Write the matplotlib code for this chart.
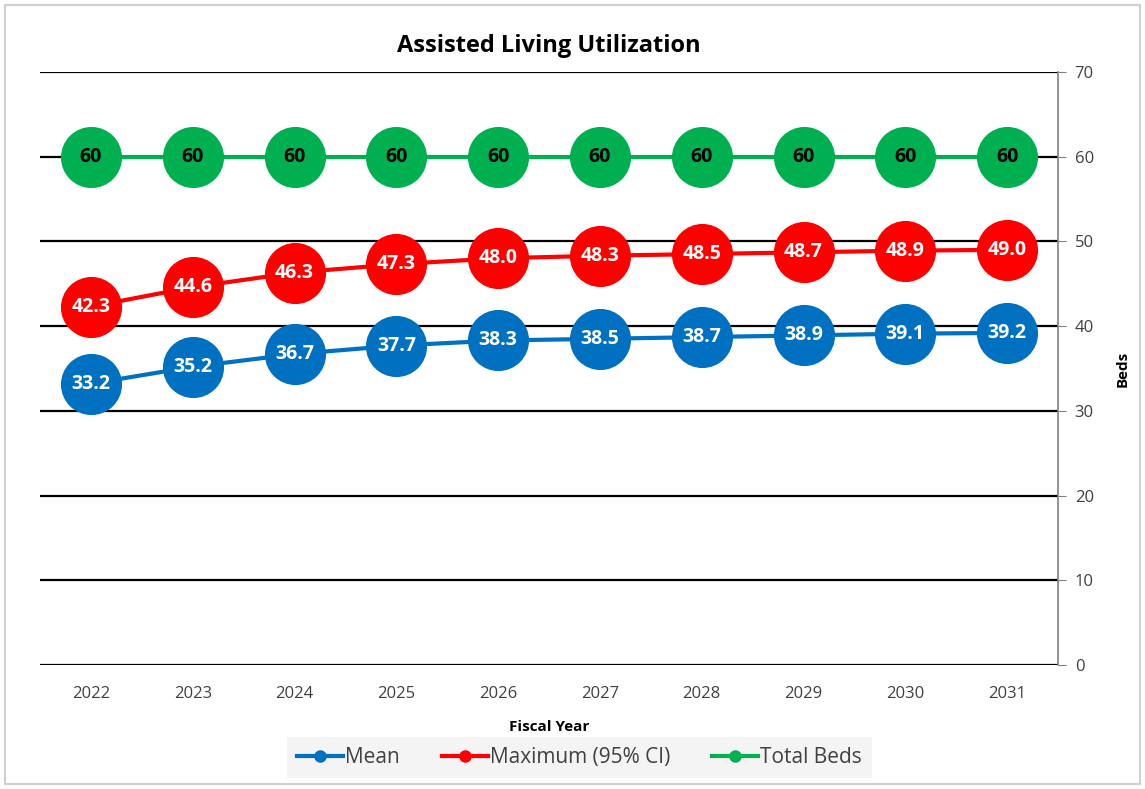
import matplotlib
matplotlib.use("Agg")
import matplotlib.pyplot as plt
from matplotlib.patches import Rectangle

plt.rcParams['font.family'] = ['Open Sans', 'DejaVu Sans']

years = ['2022', '2023', '2024', '2025', '2026', '2027', '2028', '2029', '2030', '2031']
mean = [33.2, 35.2, 36.7, 37.7, 38.3, 38.5, 38.7, 38.9, 39.1, 39.2]
maximum = [42.3, 44.6, 46.3, 47.3, 48.0, 48.3, 48.5, 48.7, 48.9, 49.0]
total_beds = [60, 60, 60, 60, 60, 60, 60, 60, 60, 60]

series = [
    ('Mean', mean, '#0070C0', 'white', '{:.1f}'),
    ('Maximum (95% CI)', maximum, '#FF0000', 'white', '{:.1f}'),
    ('Total Beds', total_beds, '#00B050', 'black', '{:.0f}'),
]

fig = plt.figure(figsize=(11.45, 7.89), dpi=100)
ax = fig.add_axes([0.035, 0.157, 0.889, 0.752])

x = list(range(len(years)))
for name, vals, col, tcol, fmt in series:
    ax.plot(x, vals, color=col, linewidth=3, marker='o', markersize=44,
            markeredgewidth=0, zorder=3, label=name)
    for xi, v in zip(x, vals):
        ax.text(xi, v, fmt.format(v), ha='center', va='center', color=tcol,
                fontsize=14, fontweight='bold', zorder=4)

ax.set_xlim(-0.5, len(years) - 0.5)
ax.set_ylim(0, 70)
ax.set_yticks(range(0, 71, 10))
ax.set_xticks(x)
ax.set_xticklabels(years)
ax.yaxis.tick_right()
ax.yaxis.set_label_position('right')
for y in range(0, 71, 10):
    ax.axhline(y, color='black', linewidth=1.6, zorder=1)
for s in ['left', 'top', 'bottom']:
    ax.spines[s].set_visible(False)
ax.spines['right'].set_color('#808080')
ax.spines['right'].set_linewidth(1.2)
ax.tick_params(axis='y', direction='out', length=6, color='#808080',
               labelsize=12, labelcolor='#404040', pad=6)
ax.tick_params(axis='x', length=0, labelsize=12, labelcolor='#404040', pad=15)
ax.set_ylabel('Beds', fontsize=11, fontweight='bold', labelpad=16)
ax.set_xlabel('Fiscal Year', fontsize=11, fontweight='bold', labelpad=13)
ax.set_title('Assisted Living Utilization', fontsize=17, fontweight='bold', pad=14)

handles = [plt.Line2D([], [], color=c, linewidth=3, marker='o', markersize=8)
           for _, _, c, _, _ in series]
leg = fig.legend(handles, [s[0] for s in series], loc='center',
                 bbox_to_anchor=(0.506, 0.040), ncol=3, frameon=True,
                 fontsize=15, handlelength=2.2, handletextpad=0.1,
                 columnspacing=2.0, borderpad=0.5)
leg.get_frame().set_facecolor('#F2F2F2')
leg.get_frame().set_edgecolor('none')
leg.get_frame().set_boxstyle('square', pad=0)
for t in leg.get_texts():
    t.set_color('#404040')

fig.patches.append(Rectangle((0.004, 0.006), 0.992, 0.988, transform=fig.transFigure,
                             fill=False, edgecolor='#D0D0D0', linewidth=1.5))

fig.savefig('out.png', dpi=100)
